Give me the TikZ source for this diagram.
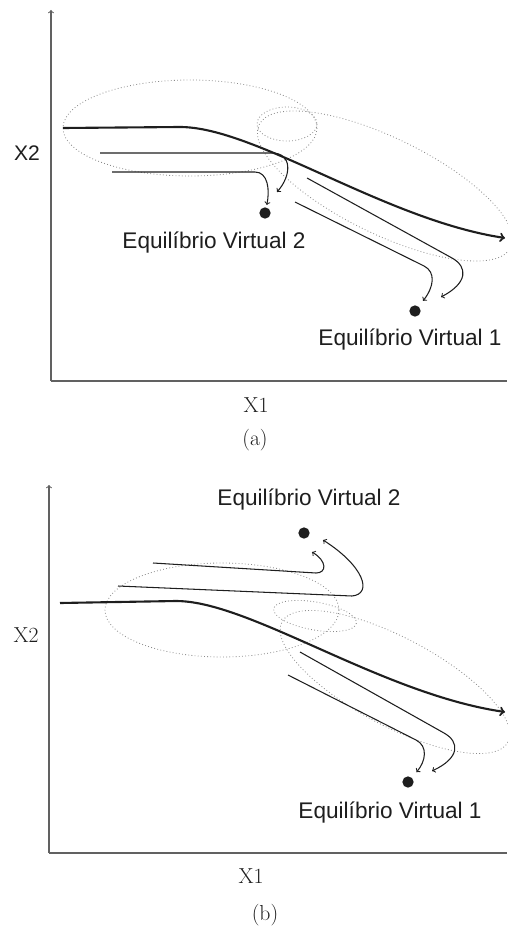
\documentclass[tikz,border=0pt]{standalone}
\usepackage{fontspec}
\usepackage{tikz}
\newfontfamily\etichetta{Liberation Sans}
\definecolor{grigio}{HTML}{8A8A8A}
\definecolor{nero}{HTML}{1E1E1E}

\begin{document}
\begin{tikzpicture}[x=0.03cm, y=-0.03cm,
    asse/.style={line width=0.9pt, color=grigio!70!black},
    regione/.style={dotted, line width=0.7pt, color=grigio},
    principale/.style={->, line width=1.8pt, color=nero},
    traiett/.style={->, line width=0.9pt, color=nero},
    punto/.style={circle, fill=nero, inner sep=0pt, minimum size=0.34cm},
    testo/.style={font=\fontsize{18.5}{22}\selectfont, color=nero},
    lab/.style={font=\etichetta\fontsize{19.3}{23}\selectfont, color=nero, inner sep=0pt}]
    \useasboundingbox (0,0) rectangle (507,933);

    % ---------------- pannello (a) ----------------
    % assi
    \coordinate (oA) at (51,381);
    \coordinate (yA) at (51,10);
    \coordinate (xA) at (507,381);
    \draw[asse, ->] (oA) -- (yA);
    \draw[asse] (oA) -- (xA);
    \node[testo, font=\etichetta\fontsize{18}{22}\selectfont] (x2A) at (27,153) {X2};
    \node[testo] (x1A) at (256,405) {X1};
    \node[testo] (capA) at (255,440) {(a)};

    % regioni (puntinate)
    \draw[regione] (190,128) ellipse [x radius=127, y radius=48];
    \draw[regione] (287,124) ellipse [x radius=30, y radius=17];
    \draw[regione, rotate around={-26:(385,186)}] (385,186) ellipse [x radius=140, y radius=48];

    % traiettoria principale
    \coordinate (iniA) at (63,128);
    \coordinate (finA) at (505,238);
    \draw[principale] (iniA) -- (180,127) .. controls (255,127) and (385,220) .. (finA);

    % equilibri virtuali
    \node[punto] (evA2) at (265,213) {};
    \node[punto] (evA1) at (415,311) {};
    \node[lab, anchor=base] (tA2) at (214,248) {Equilíbrio Virtual 2};
    \node[lab, anchor=base] (tA1) at (410,345) {Equilíbrio Virtual 1};

    % traiettorie verso EV2
    \coordinate (sA1) at (100,153);
    \coordinate (eA1) at (277,192);
    \draw[traiett] (sA1) -- (272,153) .. controls (292,153) and (292,175) .. (eA1);
    \coordinate (sA2) at (112,172);
    \draw[traiett, shorten >=2pt] (sA2) -- (255,172) .. controls (268,172) and (270,190) .. (evA2);

    % traiettorie verso EV1
    \coordinate (sA3) at (307,178);
    \coordinate (eA3) at (441,297);
    \draw[traiett] (sA3) -- (452,258) .. controls (468,267) and (468,283) .. (eA3);
    \coordinate (sA4) at (295,202);
    \draw[traiett, shorten >=6pt] (sA4) -- (424,266) .. controls (436,272) and (434,287) .. (evA1);

    % ---------------- pannello (b) ----------------
    % assi
    \coordinate (oB) at (49,853);
    \coordinate (yB) at (49,485);
    \coordinate (xB) at (507,853);
    \draw[asse, ->] (oB) -- (yB);
    \draw[asse] (oB) -- (xB);
    \node[testo] (x2B) at (26,635) {X2};
    \node[testo] (x1B) at (251,876) {X1};
    \node[testo] (capB) at (265,915) {(b)};

    % regioni (puntinate)
    \draw[regione] (222,610) ellipse [x radius=117, y radius=47];
    \draw[regione, rotate around={-10:(315,616)}] (315,616) ellipse [x radius=42, y radius=14];
    \draw[regione, rotate around={-28:(395,682)}] (395,682) ellipse [x radius=128, y radius=44];

    % traiettoria principale
    \coordinate (iniB) at (60,603);
    \coordinate (finB) at (505,712);
    \draw[principale] (iniB) -- (176,601) .. controls (250,601) and (381,694) .. (finB);

    % equilibri virtuali
    \node[punto] (evB2) at (304,533) {};
    \node[punto] (evB1) at (408,782) {};
    \node[lab, anchor=base] (tB2) at (309,505) {Equilíbrio Virtual 2};
    \node[lab, anchor=base] (tB1) at (390,818) {Equilíbrio Virtual 1};

    % traiettorie verso EV2
    \coordinate (sB1) at (153,563);
    \coordinate (eB1) at (312,552);
    \draw[traiett] (sB1) -- (316,573) .. controls (327,573) and (327,561) .. (eB1);
    \coordinate (sB2) at (118,586);
    \coordinate (eB2) at (323,540);
    \draw[traiett] (sB2) -- (352,596) .. controls (373,594) and (364,566) .. (eB2);

    % traiettorie verso EV1
    \coordinate (sB3) at (300,652);
    \coordinate (eB3) at (432,771);
    \draw[traiett] (sB3) -- (444,733) .. controls (460,742) and (460,758) .. (eB3);
    \coordinate (sB4) at (288,675);
    \draw[traiett, shorten >=6pt] (sB4) -- (416,740) .. controls (428,746) and (426,761) .. (evB1);
\end{tikzpicture}
\end{document}
